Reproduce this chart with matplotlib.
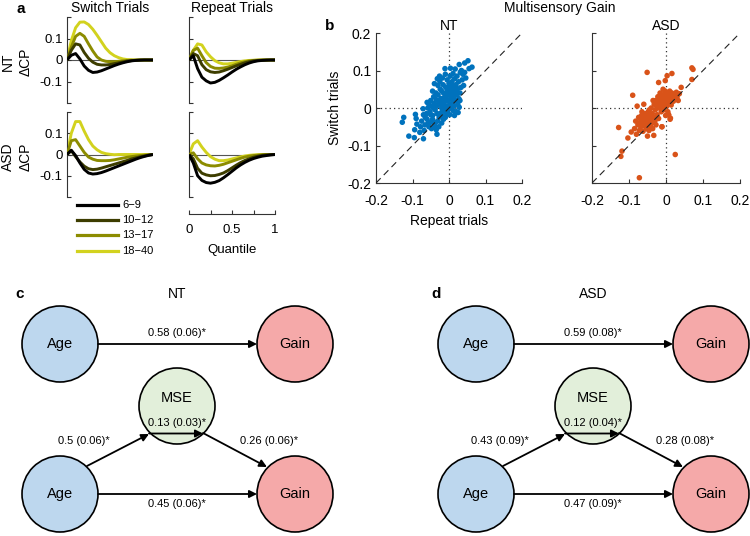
import matplotlib
matplotlib.use('Agg')
import matplotlib.pyplot as plt
import numpy as np
from matplotlib.patches import Circle, FancyArrowPatch
from matplotlib.lines import Line2D

plt.rcParams['font.family'] = ['Liberation Sans', 'DejaVu Sans']

# ---------------- data ----------------
quantiles = [0.0, 0.05, 0.10, 0.15, 0.20, 0.25, 0.30, 0.35, 0.40, 0.45, 0.50,
             0.55, 0.60, 0.65, 0.70, 0.75, 0.80, 0.85, 0.90, 0.95, 1.0]
age_groups = ['6\u22129', '10\u221212', '13\u221217', '18\u221240']
age_colors = ['#000000', '#3d3d00', '#8c8c00', '#d2d21e']

# NT switch trials
nt_sw_6_9 = [0, 0.022, 0.030, 0.005, -0.028, -0.048, -0.058, -0.056, -0.050, -0.042, -0.034,
             -0.026, -0.019, -0.013, -0.008, -0.004, -0.002, -0.001, 0, 0, 0]
nt_sw_10_12 = [0, 0.045, 0.075, 0.070, 0.035, 0.008, -0.010, -0.020, -0.023, -0.023, -0.021,
               -0.017, -0.013, -0.009, -0.005, -0.003, -0.001, 0, 0, 0, 0]
nt_sw_13_17 = [0, 0.060, 0.110, 0.124, 0.110, 0.075, 0.042, 0.014, 0.000, -0.006, -0.008,
               -0.008, -0.006, -0.004, -0.002, -0.001, -0.001, 0, 0, 0, 0]
nt_sw_18_40 = [0, 0.090, 0.150, 0.176, 0.177, 0.165, 0.143, 0.115, 0.085, 0.055, 0.034,
               0.020, 0.011, 0.005, 0.002, 0.001, 0, 0, 0, 0, 0]
# NT repeat trials
nt_rp_6_9 = [0, 0.020, -0.040, -0.080, -0.097, -0.107, -0.104, -0.095, -0.083, -0.070, -0.056,
             -0.043, -0.032, -0.022, -0.014, -0.008, -0.004, -0.002, -0.001, 0, 0]
nt_rp_10_12 = [0, 0.030, 0.020, -0.022, -0.045, -0.055, -0.058, -0.056, -0.050, -0.043, -0.035,
               -0.027, -0.020, -0.013, -0.008, -0.004, -0.002, -0.001, 0, 0, 0]
nt_rp_13_17 = [0, 0.045, 0.055, 0.020, -0.012, -0.030, -0.038, -0.039, -0.037, -0.033, -0.027,
               -0.020, -0.013, -0.008, -0.004, -0.002, -0.001, 0, 0, 0, 0]
nt_rp_18_40 = [0, 0.045, 0.075, 0.070, 0.038, 0.015, -0.003, -0.013, -0.018, -0.018, -0.015,
               -0.011, -0.007, -0.004, -0.002, -0.001, 0, 0, 0, 0, 0]
# ASD switch trials
asd_sw_6_9 = [0, 0.020, -0.005, -0.040, -0.070, -0.087, -0.092, -0.090, -0.085, -0.078, -0.070,
              -0.062, -0.054, -0.046, -0.038, -0.030, -0.022, -0.015, -0.009, -0.004, 0]
asd_sw_10_12 = [0, 0.018, -0.010, -0.035, -0.055, -0.067, -0.071, -0.069, -0.064, -0.058, -0.052,
                -0.046, -0.040, -0.034, -0.028, -0.021, -0.016, -0.011, -0.007, -0.003, 0]
asd_sw_13_17 = [0, 0.065, 0.070, 0.040, 0.010, -0.012, -0.022, -0.028, -0.029, -0.029, -0.028,
                -0.025, -0.021, -0.017, -0.013, -0.010, -0.007, -0.005, -0.003, -0.001, 0]
asd_sw_18_40 = [0, 0.100, 0.155, 0.155, 0.110, 0.070, 0.040, 0.022, 0.010, 0.004, 0.001,
                -0.001, 0, 0, 0, 0, 0, 0, 0, 0, 0]
# ASD repeat trials
asd_rp_6_9 = [0, -0.040, -0.100, -0.122, -0.132, -0.135, -0.131, -0.123, -0.110, -0.095, -0.079,
              -0.063, -0.049, -0.037, -0.027, -0.019, -0.013, -0.008, -0.005, -0.002, 0]
asd_rp_10_12 = [0, -0.020, -0.065, -0.088, -0.096, -0.100, -0.099, -0.094, -0.087, -0.076, -0.063,
                -0.050, -0.038, -0.028, -0.020, -0.013, -0.008, -0.004, -0.002, -0.001, 0]
asd_rp_13_17 = [0, 0.008, -0.020, -0.040, -0.049, -0.053, -0.054, -0.051, -0.046, -0.039, -0.032,
                -0.025, -0.018, -0.012, -0.008, -0.005, -0.003, -0.001, 0, 0, 0]
asd_rp_18_40 = [0, 0.050, 0.065, 0.035, 0.010, -0.010, -0.022, -0.029, -0.029, -0.026, -0.021,
                -0.016, -0.011, -0.007, -0.004, -0.002, -0.001, 0, 0, 0, 0]

curves = {
    ('NT', 'switch'): [nt_sw_6_9, nt_sw_10_12, nt_sw_13_17, nt_sw_18_40],
    ('NT', 'repeat'): [nt_rp_6_9, nt_rp_10_12, nt_rp_13_17, nt_rp_18_40],
    ('ASD', 'switch'): [asd_sw_6_9, asd_sw_10_12, asd_sw_13_17, asd_sw_18_40],
    ('ASD', 'repeat'): [asd_rp_6_9, asd_rp_10_12, asd_rp_13_17, asd_rp_18_40],
}

# Multisensory gain scatter (repeat x, switch y)
nt_repeat = [-0.128, -0.124, -0.110, -0.095, -0.092, -0.090, -0.088, -0.094, -0.070, -0.071,
             -0.068, -0.066, -0.060, -0.062, -0.055, -0.050, -0.048, -0.040, -0.033, -0.035,
             -0.028, -0.020, -0.015, -0.010, -0.058, -0.055, -0.052, -0.050, -0.048, -0.045,
             -0.042, -0.040, -0.038, -0.036, -0.035, -0.033, -0.030, -0.030, -0.028, -0.027,
             -0.025, -0.024, -0.022, -0.020, -0.019, -0.018, -0.016, -0.015, -0.014, -0.012,
             -0.011, -0.010, -0.009, -0.008, -0.007, -0.006, -0.005, -0.004, -0.003, -0.002,
             0.000, 0.001, 0.002, 0.003, 0.004, 0.005, 0.006, 0.007, 0.008, 0.009,
             0.010, 0.011, 0.012, 0.013, 0.014, 0.015, 0.016, 0.017, 0.018, 0.019,
             0.020, 0.021, 0.022, 0.023, 0.024, 0.026, 0.027, 0.028, 0.030, 0.031,
             0.033, 0.034, 0.036, 0.038, 0.040, 0.043, 0.043, 0.046, 0.052, 0.055,
             0.063, -0.032, -0.026, -0.040, -0.045, -0.060, -0.065, -0.075, -0.078, -0.080,
             -0.045, -0.038, -0.025, -0.018, -0.008, 0.002, 0.012, 0.028, 0.025, 0.015,
             -0.034, -0.022, -0.013, -0.003, 0.005, 0.010, 0.018, -0.050, -0.043, -0.029,
             -0.017, -0.010, -0.001, 0.007, 0.020, -0.020, -0.031, -0.057, -0.070, 0.030]
nt_switch = [-0.038, -0.025, -0.075, -0.079, -0.017, -0.028, -0.043, -0.058, -0.082, -0.002,
             -0.060, -0.045, -0.030, -0.015, -0.050, -0.038, -0.055, -0.048, -0.070, -0.058,
             -0.050, -0.040, -0.030, -0.025, 0.000, 0.010, -0.010, 0.020, 0.005, -0.020,
             0.030, 0.012, -0.005, 0.040, 0.022, -0.015, 0.060, 0.035, 0.010, -0.025,
             0.070, 0.050, 0.025, 0.000, -0.010, 0.080, 0.062, 0.040, 0.015, -0.005,
             0.105, 0.090, 0.055, 0.030, 0.005, -0.015, 0.075, 0.045, 0.020, -0.005,
             0.065, 0.035, 0.010, 0.085, 0.106, 0.050, 0.025, 0.000, 0.070, 0.040,
             0.015, 0.092, 0.058, 0.030, 0.005, 0.078, 0.045, 0.104, 0.020, 0.062,
             -0.010, 0.035, 0.085, 0.050, 0.010, 0.070, 0.025, 0.116, 0.040, 0.095,
             0.055, 0.100, 0.075, 0.090, 0.060, 0.120, 0.095, 0.080, 0.126, 0.105,
             0.109, 0.078, 0.085, 0.065, 0.045, 0.015, -0.025, -0.035, -0.050, -0.065,
             -0.030, -0.040, -0.015, -0.022, -0.012, -0.018, -0.008, 0.002, -0.012, -0.020,
             0.005, 0.012, 0.028, 0.040, 0.030, 0.052, 0.040, -0.018, 0.000, 0.020,
             0.005, 0.018, 0.055, 0.060, 0.055, 0.045, -0.035, -0.040, -0.018, 0.020]

asd_repeat = [-0.128, -0.122, -0.119, -0.103, -0.094, -0.090, -0.072, -0.051, 0.025, 0.070,
              0.073, 0.070, 0.041, 0.016, 0.003, -0.002, -0.020, -0.078, -0.085, -0.082,
              -0.080, -0.076, -0.074, -0.072, -0.070, -0.068, -0.066, -0.065, -0.063, -0.062,
              -0.060, -0.059, -0.058, -0.056, -0.055, -0.054, -0.053, -0.052, -0.050, -0.049,
              -0.048, -0.047, -0.046, -0.045, -0.043, -0.042, -0.041, -0.040, -0.038, -0.037,
              -0.036, -0.034, -0.033, -0.032, -0.030, -0.029, -0.028, -0.027, -0.025, -0.024,
              -0.022, -0.021, -0.020, -0.018, -0.017, -0.016, -0.015, -0.013, -0.012, -0.011,
              -0.010, -0.009, -0.008, -0.007, -0.006, -0.005, -0.004, -0.003, -0.002, -0.001,
              0.000, 0.001, 0.002, 0.003, 0.004, 0.005, 0.006, 0.007, 0.008, 0.009,
              0.010, 0.011, 0.012, 0.013, 0.014, 0.016, 0.018, 0.020, 0.022, 0.025,
              0.028, 0.030, 0.033, 0.036, -0.060, -0.035, -0.050, -0.045, -0.065, -0.040,
              -0.011, 0.012, 0.007, -0.025, -0.055, -0.070]
asd_switch = [-0.052, -0.129, -0.115, -0.080, -0.064, 0.034, -0.186, 0.095, -0.124, 0.107,
              0.103, 0.076, 0.055, 0.092, 0.086, 0.073, 0.068, 0.005, -0.055, -0.035,
              -0.070, -0.045, -0.025, -0.060, -0.038, -0.050, -0.020, -0.030, -0.042, -0.062,
              -0.025, -0.035, -0.048, -0.015, -0.030, -0.040, -0.055, -0.022, -0.033, -0.045,
              -0.010, -0.028, -0.060, -0.038, -0.020, -0.048, -0.030, 0.000, -0.040, -0.015,
              -0.055, -0.025, -0.073, 0.010, -0.035, -0.005, 0.020, -0.045, 0.005, -0.018,
              0.030, 0.012, -0.028, 0.000, 0.022, 0.040, 0.008, -0.010, 0.018, -0.050,
              0.030, 0.005, 0.050, 0.015, -0.005, 0.025, 0.038, 0.010, 0.045, -0.020,
              0.020, 0.030, 0.005, 0.040, 0.015, -0.010, 0.025, -0.018, 0.035, 0.012,
              0.045, -0.030, 0.022, 0.030, 0.008, 0.040, 0.028, 0.018, 0.035, 0.025,
              0.042, 0.030, 0.020, 0.038, 0.010, 0.020, -0.075, -0.005, -0.010, -0.025,
              -0.050, -0.027, -0.018, 0.008, -0.045, -0.040]

# path models
node_names = ['Age', 'Gain', 'MSE']
nt_coefs = ['0.58 (0.06)*', '0.5 (0.06)*', '0.13 (0.03)*', '0.26 (0.06)*', '0.45 (0.06)*']
asd_coefs = ['0.59 (0.08)*', '0.43 (0.09)*', '0.12 (0.04)*', '0.28 (0.08)*', '0.47 (0.09)*']

# ---------------- figure ----------------
W, H = 750, 536
fig = plt.figure(figsize=(W / 100, H / 100), dpi=100)

def ax_px(x0, y0, x1, y1, **kw):
    return fig.add_axes([x0 / W, 1 - y1 / H, (x1 - x0) / W, (y1 - y0) / H], **kw)

# overlay for text and diagrams
ov = ax_px(0, 0, W, H)
ov.set_xlim(0, W)
ov.set_ylim(H, 0)
ov.axis('off')
ov.set_zorder(-1)

# ---- panel a ----
rows = [('NT', 17, 103), ('ASD', 112, 197)]
cols = [('switch', 67, 153), ('repeat', 189, 275)]
for grp, y0, y1 in rows:
    for cond, x0, x1 in cols:
        ax = ax_px(x0, y0, x1, y1)
        ax.set_facecolor('none')
        ax.set_xlim(0, 1)
        ax.set_ylim(-0.2, 0.2)
        for s in ['top', 'right', 'bottom']:
            ax.spines[s].set_visible(False)
        ax.spines['left'].set_color('#333333')
        ax.spines['left'].set_linewidth(0.8)
        ax.axhline(0, color='#555555', lw=0.8, zorder=1)
        ys = curves[(grp, cond)]
        for i in [3, 2, 1, 0]:
            ax.plot(quantiles, ys[i], color=age_colors[i], lw=2.1,
                    solid_capstyle='butt', zorder=2 + (3 - i))
        ax.set_xticks([])
        ax.set_yticks([-0.2, -0.1, 0, 0.1, 0.2])
        if cond == 'switch':
            ax.set_yticklabels(['', '-0.1', '0', '0.1', ''])
        else:
            ax.set_yticklabels([])
        ax.tick_params(axis='y', direction='in', length=3, width=0.8,
                       labelsize=9.5, pad=3, color='#333333')
        ax.patch.set_visible(False)

# quantile axis under repeat column
axq = ax_px(189, 213, 275, 214)
axq.set_xlim(0, 1)
for s in ['top', 'right', 'left']:
    axq.spines[s].set_visible(False)
axq.spines['bottom'].set_linewidth(0.8)
axq.spines['bottom'].set_color('#333333')
axq.set_yticks([])
axq.set_xticks([0, 0.25, 0.5, 0.75, 1])
axq.set_xticklabels(['0', '', '0.5', '', '1'])
axq.tick_params(axis='x', direction='in', length=3, labelsize=9.5, pad=7, color='#333333')
axq.set_xlabel('Quantile', fontsize=9.5, labelpad=6)
axq.patch.set_visible(False)

ov.text(110, 8, 'Switch Trials', ha='center', va='center', fontsize=10)
ov.text(232, 8, 'Repeat Trials', ha='center', va='center', fontsize=10)
ov.text(21, 9, 'a', ha='center', va='center', fontsize=11, fontweight='bold')
for grp, y0, y1 in rows:
    yc = (y0 + y1) / 2 + 2
    ov.text(8, yc, grp, rotation=90, ha='center', va='center', fontsize=10)
    ov.text(26, yc, '\u0394CP', rotation=90, ha='center', va='center', fontsize=10)

# legend
leg_y = [205, 220, 235, 251]
for i in range(4):
    ov.add_line(Line2D([77, 118], [leg_y[i], leg_y[i]], color=age_colors[i], lw=2.3))
    ov.text(122, leg_y[i], age_groups[i], ha='left', va='center', fontsize=8)

# ---- panel b ----
scat = [('NT', 376, 522, nt_repeat, nt_switch, '#0072BD'),
        ('ASD', 592, 740, asd_repeat, asd_switch, '#D95319')]
for j, (name, x0, x1, xs, ys, col) in enumerate(scat):
    ax = ax_px(x0, 33, x1, 183)
    ax.set_xlim(-0.2, 0.2)
    ax.set_ylim(-0.2, 0.2)
    for s in ['top', 'right']:
        ax.spines[s].set_visible(False)
    for s in ['left', 'bottom']:
        ax.spines[s].set_linewidth(0.8)
        ax.spines[s].set_color('#333333')
    ax.plot([0, 0], [-0.2, 0.2], color='#333333', lw=0.9, ls=(0, (1, 2.5)), zorder=1)
    ax.plot([-0.2, 0.2], [0, 0], color='#333333', lw=0.9, ls=(0, (1, 2.5)), zorder=1)
    ax.scatter(xs, ys, s=16, color=col, edgecolors='none', zorder=2)
    ax.plot([-0.2, 0.2], [-0.2, 0.2], color='#222222', lw=0.8, ls=(0, (6, 4)), zorder=3)
    ticks = [-0.2, -0.1, 0, 0.1, 0.2]
    ax.set_xticks(ticks)
    ax.set_xticklabels(['-0.2', '-0.1', '0', '0.1', '0.2'])
    ax.set_yticks(ticks)
    if j == 0:
        ax.set_yticklabels(['-0.2', '-0.1', '0', '0.1', '0.2'])
        ax.set_ylabel('Switch trials', fontsize=10, labelpad=4)
        ax.set_xlabel('Repeat trials', fontsize=10, labelpad=4)
    else:
        ax.set_yticklabels([])
    ax.tick_params(direction='in', length=3, width=0.8, labelsize=10, color='#333333')
    ax.tick_params(axis='x', pad=8)
    ax.set_title(name, fontsize=10, pad=2)

ov.text(560, 8, 'Multisensory Gain', ha='center', va='center', fontsize=10)
ov.text(330, 26, 'b', ha='center', va='center', fontsize=11, fontweight='bold')

# ---- panels c & d ----
fill = {'Age': '#bdd7ee', 'Gain': '#f5a9a9', 'MSE': '#e2efda'}
R = 38

def arrow(x0, y0, x1, y1):
    a = FancyArrowPatch((x0, y0), (x1, y1), arrowstyle='-|>', mutation_scale=11,
                        lw=1.3, color='black', shrinkA=0, shrinkB=0, zorder=5)
    ov.add_patch(a)

for k, (title, letter, coefs) in enumerate([('NT', 'c', nt_coefs), ('ASD', 'd', asd_coefs)]):
    dx = 416 * k
    ageT = (60 + dx, 344)
    gainT = (295 + dx, 344)
    mse = (177 + dx, 406)
    ageB = (60 + dx, 494)
    gainB = (295 + dx, 494)
    for (cx, cy), nm in [(ageT, 'Age'), (gainT, 'Gain'), (mse, 'MSE'), (ageB, 'Age'), (gainB, 'Gain')]:
        ov.add_patch(Circle((cx, cy), R, facecolor=fill[nm], edgecolor='black', lw=1.2, zorder=3))
        ov.text(cx, cy - (8 if nm == 'MSE' else 0), nm, ha='center', va='center',
                fontsize=10.5, zorder=6)
    ov.text(177 + dx, 294, title, ha='center', va='center', fontsize=10)
    ov.text(20 + dx, 294, letter, ha='center', va='center', fontsize=11, fontweight='bold')
    # top direct path
    arrow(ageT[0] + R, ageT[1], gainT[0] - R, gainT[1])
    ov.text(177 + dx, 333, coefs[0], ha='center', va='center', fontsize=8, zorder=6)
    # age -> MSE
    arrow(87 + dx, 466, 149 + dx, 434)
    ov.text(84 + dx, 441, coefs[1], ha='center', va='center', fontsize=8, zorder=6)
    # indirect inside MSE
    arrow(149 + dx, 433.5, 203 + dx, 433.5)
    ov.text(177 + dx, 422.5, coefs[2], ha='center', va='center', fontsize=8, zorder=6)
    # MSE -> gain
    arrow(203 + dx, 433, 267 + dx, 467)
    ov.text(269 + dx, 441, coefs[3], ha='center', va='center', fontsize=8, zorder=6)
    # bottom direct
    arrow(ageB[0] + R, ageB[1], gainB[0] - R, gainB[1])
    ov.text(177 + dx, 504, coefs[4], ha='center', va='center', fontsize=8, zorder=6)

fig.savefig('out.png', dpi=100)
